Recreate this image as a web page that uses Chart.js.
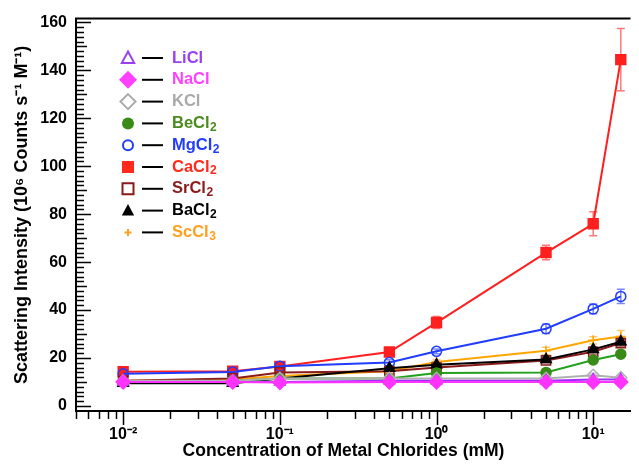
<!DOCTYPE html>
<html>
<head>
<meta charset="utf-8">
<script src="https://cdn.jsdelivr.net/npm/chart.js@4"></script>
<style>
  body { margin: 0; background: #fff; }
</style>
</head>
<body>
<canvas id="chart" width="639" height="465"></canvas>
<script>
// concentrations (mM)
var concentrations = [0.01, 0.05, 0.1, 0.5, 1, 5, 10, 15];

var seriesNames = ['LiCl', 'NaCl', 'KCl', 'BeCl2', 'MgCl2', 'CaCl2', 'SrCl2', 'BaCl2', 'ScCl3'];

// scattering intensity
var liCl = [10, 10, 10, 10.5, 10.5, 10.5, 11, 11];
var naCl = [10, 10, 9.8, 10, 10, 10, 10, 10];
var kCl = [10.5, 10.5, 11.5, 11.5, 11.5, 11.5, 12.8, 11.8];
var beCl2 = [10, 10.5, 11.5, 11.5, 13.8, 14, 19.2, 21.6];
var mgCl2 = [13.4, 14.2, 16.6, 18.1, 22.8, 32.2, 40.5, 45.7];
var caCl2 = [14.3, 14.5, 16.5, 22.5, 34.8, 64, 76, 144.5];
var srCl2 = [10.5, 11.5, 14, 14.5, 16, 19, 22.6, 26.2];
var baCl2 = [9.5, 9.5, 11.5, 15.7, 17.2, 19.4, 23.6, 26.8];
var scCl3 = [10.5, 11, 12.5, 14.5, 18.3, 23, 27.4, 29];

// error bars (+/-)
var liClErr = [0.5, 0.5, 0.5, 0.5, 0.5, 0.5, 0.5, 0.5];
var naClErr = [0.5, 0.5, 0.5, 0.5, 0.5, 0.5, 0.5, 0.5];
var kClErr = [0.5, 0.5, 0.5, 0.5, 0.5, 0.5, 0.8, 0.8];
var beCl2Err = [0.5, 0.5, 0.5, 0.5, 0.8, 0.8, 1, 1.2];
var mgCl2Err = [0.5, 0.8, 1, 1.2, 1, 2, 2, 3];
var caCl2Err = [0.5, 0.8, 1, 1.2, 2.5, 3, 5, 13];
var srCl2Err = [0.5, 0.5, 0.8, 1, 1, 1, 1, 1.5];
var baCl2Err = [0.5, 0.5, 0.8, 1, 1, 1, 1, 1.5];
var scCl3Err = [0.5, 0.5, 0.5, 1, 1, 1.5, 1.5, 2.5];

var xTickValues = [0.01, 0.1, 1, 10];
var xTickLabels = ['10\u207B\u00B2', '10\u207B\u00B9', '10\u2070', '10\u00B9'];
var yTickValues = [0, 20, 40, 60, 80, 100, 120, 140, 160];

function pts(vals) {
    return vals.map(function(v, i) { return {x: concentrations[i], y: v}; });
}

var styles = [
    {line: '#9b30ff', text: '#9a40f0', shape: 'triangle', fill: false, r: 6, lr: 6.5},
    {line: '#ff33ff', text: '#ff40ff', shape: 'rectRot', fill: true, r: 7, lr: 9},
    {line: '#b0b0b0', text: '#aaaaaa', shape: 'rectRot', fill: false, r: 6, lr: 7.5},
    {line: '#22a01e', text: '#4a8c1e', shape: 'circle', fill: true, r: 5, lr: 6, marker: '#3a8a18'},
    {line: '#1f3cff', text: '#1f3cff', shape: 'circle', fill: false, r: 5, lr: 5},
    {line: '#ff1f1f', text: '#ff2a1a', shape: 'rect', fill: true, r: 7, lr: 6},
    {line: '#8b1a1a', text: '#8b1a1a', shape: 'rect', fill: false, r: 6.5, lr: 5.5},
    {line: '#000000', text: '#000000', shape: 'triangle', fill: true, r: 6, lr: 6.5},
    {line: '#ffa500', text: '#ffa020', shape: 'cross', fill: false, r: 5, lr: 3.5}
];
var values = [liCl, naCl, kCl, beCl2, mgCl2, caCl2, srCl2, baCl2, scCl3];
var errors = [liClErr, naClErr, kClErr, beCl2Err, mgCl2Err, caCl2Err, srCl2Err, baCl2Err, scCl3Err];
// lower = drawn on top
var drawOrder = [1, 0, 2, 3, 7, 8, 5, 4, 6];

var datasets = seriesNames.map(function(name, i) {
    var s = styles[i];
    return {
        label: name,
        data: pts(values[i]),
        errors: errors[i],
        borderColor: s.line,
        borderWidth: 2,
        pointStyle: s.shape,
        pointRadius: s.r,
        pointBorderColor: s.marker || s.line,
        pointBackgroundColor: s.fill ? (s.marker || s.line) : 'rgba(0,0,0,0)',
        pointBorderWidth: 1.5,
        order: drawOrder[i],
        tension: 0
    };
});

function drawMarker(ctx, shape, x, y, r, color, fill) {
    ctx.save();
    ctx.strokeStyle = color;
    ctx.fillStyle = color;
    ctx.lineWidth = 2;
    ctx.beginPath();
    if (shape == 'circle') {
        ctx.arc(x, y, r, 0, Math.PI * 2);
    } else if (shape == 'rect') {
        ctx.rect(x - r, y - r, 2 * r, 2 * r);
    } else if (shape == 'rectRot') {
        ctx.moveTo(x, y - r); ctx.lineTo(x + r, y); ctx.lineTo(x, y + r); ctx.lineTo(x - r, y); ctx.closePath();
    } else if (shape == 'triangle') {
        ctx.moveTo(x, y - r); ctx.lineTo(x + r * 0.95, y + r * 0.75); ctx.lineTo(x - r * 0.95, y + r * 0.75); ctx.closePath();
    } else if (shape == 'cross') {
        ctx.moveTo(x - r, y); ctx.lineTo(x + r, y); ctx.moveTo(x, y - r); ctx.lineTo(x, y + r);
    }
    if (fill) ctx.fill(); else ctx.stroke();
    ctx.restore();
}

// legend with marker, dash and coloured name with subscript
var legendPlugin = {
    id: 'sideLegend',
    afterDraw: function(chart) {
        var ctx = chart.ctx;
        ctx.save();
        seriesNames.forEach(function(name, i) {
            var s = styles[i];
            var y = 58 + i * 21.8;
            drawMarker(ctx, s.shape, 128, y, s.lr, s.marker || s.text, s.fill);
            ctx.strokeStyle = '#000';
            ctx.lineWidth = 2;
            ctx.beginPath();
            ctx.moveTo(142, y); ctx.lineTo(163, y);
            ctx.stroke();
            var m = name.match(/^(.*?)(\d?)$/);
            ctx.fillStyle = s.text;
            ctx.font = 'bold 16.5px "Liberation Sans", Arial, sans-serif';
            ctx.textBaseline = 'middle';
            ctx.textAlign = 'left';
            ctx.fillText(m[1], 172, y);
            if (m[2]) {
                var w = ctx.measureText(m[1]).width;
                ctx.font = 'bold 12px "Liberation Sans", Arial, sans-serif';
                ctx.fillText(m[2], 172 + w + 0.5, y + 4);
            }
        });
        ctx.restore();
    }
};

// error bars
var errorBarPlugin = {
    id: 'errorBars',
    beforeDatasetsDraw: function(chart) {
        var ctx = chart.ctx;
        var xs = chart.scales.x, ys = chart.scales.y;
        ctx.save();
        chart.data.datasets.forEach(function(ds) {
            ctx.strokeStyle = ds.borderColor;
            ctx.globalAlpha = 0.6;
            ctx.lineWidth = 1.5;
            ds.data.forEach(function(p, j) {
                var e = ds.errors[j];
                var px = xs.getPixelForValue(p.x);
                var top = ys.getPixelForValue(p.y + e);
                var bot = ys.getPixelForValue(p.y - e);
                ctx.beginPath();
                ctx.moveTo(px, top); ctx.lineTo(px, bot);
                ctx.moveTo(px - 4, top); ctx.lineTo(px + 4, top);
                ctx.moveTo(px - 4, bot); ctx.lineTo(px + 4, bot);
                ctx.stroke();
            });
        });
        ctx.restore();
    }
};

// tick marks: y inward (2/10/20), x outward log minors
var tickPlugin = {
    id: 'tickMarks',
    afterDraw: function(chart) {
        var ctx = chart.ctx;
        var area = chart.chartArea;
        var xs = chart.scales.x, ys = chart.scales.y;
        ctx.save();
        ctx.strokeStyle = '#000';
        ctx.lineWidth = 2;
        ctx.beginPath();
        ctx.moveTo(area.left - 1, area.top);
        ctx.lineTo(area.right, area.top);
        ctx.stroke();
        ctx.lineWidth = 1.5;
        for (var v = 0; v <= 160; v += 2) {
            var py = Math.round(ys.getPixelForValue(v)) + 0.5;
            var len = v % 20 == 0 ? 15 : (v % 10 == 0 ? 11 : 8);
            ctx.beginPath();
            ctx.moveTo(area.left, py); ctx.lineTo(area.left + len, py);
            ctx.stroke();
        }
        var decades = [0.001, 0.01, 0.1, 1, 10];
        decades.forEach(function(d) {
            for (var k = 1; k < 10; k++) {
                var val = d * k;
                if (val < xs.min || val > xs.max) continue;
                var px = Math.round(xs.getPixelForValue(val)) + 0.5;
                var len = k == 1 ? 14 : 8;
                ctx.beginPath();
                ctx.moveTo(px, area.bottom); ctx.lineTo(px, area.bottom + len);
                ctx.stroke();
            }
        });
        ctx.restore();
    }
};

Chart.defaults.font.family = '"Liberation Sans", Arial, sans-serif';
Chart.defaults.color = '#000';

var ctx = document.getElementById('chart');
var myChart = new Chart(ctx, {
    type: 'line',
    data: {datasets: datasets},
    options: {
        responsive: false,
        animation: false,
        layout: {padding: {top: 16, right: 0, left: 0, bottom: 0}},
        plugins: {
            legend: {display: false},
            tooltip: {enabled: false}
        },
        scales: {
            x: {
                type: 'logarithmic',
                min: 0.005,
                max: 17.3,
                afterBuildTicks: function(scale) {
                    scale.ticks = xTickValues.map(function(v) { return {value: v}; });
                },
                afterFit: function(scale) { scale.height = 54; },
                ticks: {
                    padding: 14,
                    font: {size: 16, weight: 'bold'},
                    autoSkip: false,
                    maxRotation: 0,
                    callback: function(v) {
                        var i = xTickValues.indexOf(v);
                        return i >= 0 ? xTickLabels[i] : '';
                    }
                },
                grid: {display: false, drawTicks: false},
                border: {display: true, width: 2, color: '#000'},
                title: {
                    display: true,
                    text: 'Concentration of Metal Chlorides (mM)    ',
                    font: {size: 17.5, weight: 'bold'},
                    padding: {top: 0, bottom: 3}
                }
            },
            y: {
                min: -2.1,
                max: 161.6,
                afterBuildTicks: function(scale) {
                    scale.ticks = yTickValues.map(function(v) { return {value: v}; });
                },
                afterFit: function(scale) { scale.width = 76; },
                ticks: {
                    padding: 9,
                    font: {size: 16, weight: 'bold'}
                },
                grid: {display: false, drawTicks: false},
                border: {display: true, width: 2, color: '#000'},
                title: {
                    display: true,
                    text: 'Scattering Intensity (10\u2076 Counts s\u207B\u00B9 M\u207B\u00B9)',
                    font: {size: 18, weight: 'bold'},
                    padding: {top: 11, bottom: 0}
                }
            }
        }
    },
    plugins: [errorBarPlugin, tickPlugin, legendPlugin]
});
</script>
</body>
</html>
